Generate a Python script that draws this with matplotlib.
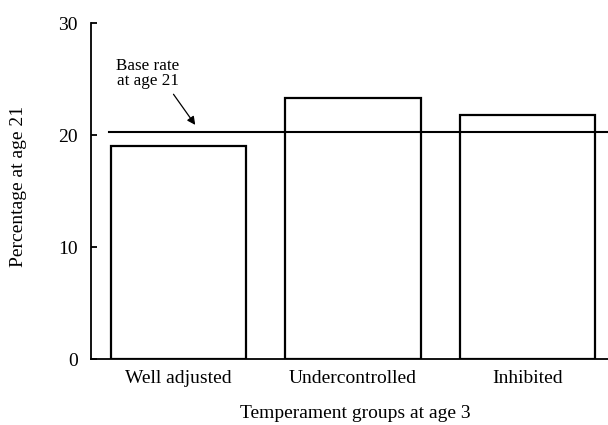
import matplotlib.pyplot as plt
import numpy as np

# data
groups = ['Well adjusted', 'Undercontrolled', 'Inhibited']
percent = [19.05, 23.3, 21.8]
base_rate = 20.25
y_ticks = [0, 10, 20, 30]

plt.rcParams['font.family'] = ['Liberation Serif', 'DejaVu Serif']

fig = plt.figure(figsize=(6.08, 4.25), dpi=100)
ax = fig.add_axes([91 / 608, 1 - 359 / 425, 517 / 608, 336 / 425])

x = np.arange(len(groups))
ax.bar(x, percent, width=0.774, facecolor='white', edgecolor='black', linewidth=1.6)

# base rate line
ax.plot([-0.398, 2.46], [base_rate, base_rate], color='black', linewidth=1.5, zorder=3)
ax.text(-0.175, 25.45, 'Base rate\nat age 21', ha='center', va='center', fontsize=12.3,
        linespacing=0.92)
ax.annotate('', xy=(0.106, 20.7), xytext=(-0.037, 23.84),
            arrowprops=dict(arrowstyle='-|>', color='black', lw=0.9, mutation_scale=12))

ax.set_xlim(-0.5, 2.46)
ax.set_ylim(0, 30)
ax.set_yticks(y_ticks)
ax.set_xticks(x)
ax.set_xticklabels(groups)

for side in ['top', 'right']:
    ax.spines[side].set_visible(False)
ax.spines['left'].set_linewidth(1.3)
ax.spines['bottom'].set_linewidth(1.3)
ax.tick_params(axis='y', direction='in', length=4, width=1.3, pad=9.5, labelsize=14)
ax.tick_params(axis='x', length=0, pad=8, labelsize=14)

fig.text(19 / 608, 1 - 186 / 425, 'Percentage at age 21', rotation=90, ha='center',
         va='center', fontsize=14)
fig.text(355 / 608, 1 - 414 / 425, 'Temperament groups at age 3', ha='center', va='center',
         fontsize=14)

fig.savefig('out.png', dpi=100)
